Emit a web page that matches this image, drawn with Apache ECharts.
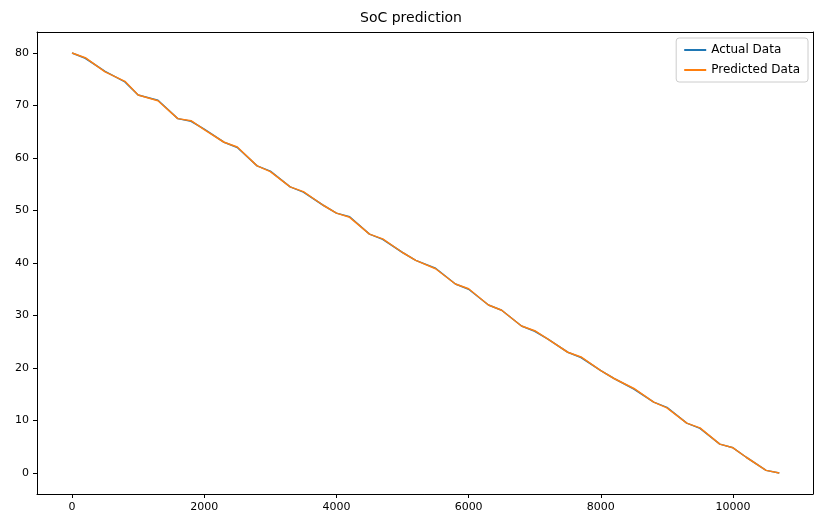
<!DOCTYPE html>
<html>
<head>
<meta charset="utf-8">
<script src="https://cdn.jsdelivr.net/npm/echarts@6/dist/echarts.min.js"></script>
<style>html,body{margin:0;padding:0;background:#fff}#chart{width:822px;height:528px}</style>
</head>
<body>
<div id="chart"></div>
<script>
var steps = [0, 200, 500, 800, 1000, 1300, 1600, 1800, 2000, 2300, 2500, 2800, 3000, 3300, 3500, 3800, 4000, 4200, 4500, 4700, 5000, 5200, 5500, 5800, 6000, 6300, 6500, 6800, 7000, 7200, 7500, 7700, 8000, 8200, 8500, 8800, 9000, 9300, 9500, 9800, 10000, 10200, 10500, 10700];
var actual = [80, 79, 76.5, 74.5, 72, 71, 67.5, 67, 65.5, 63, 62, 58.5, 57.5, 54.5, 53.5, 51, 49.5, 48.8, 45.5, 44.5, 42, 40.5, 39, 36, 35, 32, 31, 28, 27, 25.5, 23, 22, 19.5, 18, 16, 13.5, 12.5, 9.5, 8.5, 5.5, 4.8, 3, 0.5, 0];
var predicted = [80, 79.1, 76.4, 74.6, 72, 70.9, 67.5, 67.1, 65.4, 63, 62.1, 58.5, 57.4, 54.5, 53.6, 51, 49.5, 48.7, 45.5, 44.6, 42, 40.5, 38.9, 36, 35.1, 32, 31, 28, 27.1, 25.5, 23, 22.1, 19.5, 18, 16.1, 13.5, 12.4, 9.5, 8.6, 5.5, 4.8, 3, 0.5, 0];
var xTicks = [0, 2000, 4000, 6000, 8000, 10000];
var yTicks = [0, 10, 20, 30, 40, 50, 60, 70, 80];

var chart = echarts.init(document.getElementById('chart'));
function pairs(ys) { return steps.map(function (x, i) { return [x, ys[i]]; }); }
var font = { color: '#000', fontSize: 11, fontFamily: 'DejaVu Sans' };
var line = { show: true, onZero: false, lineStyle: { color: '#000' } };
var frame = { axisLine: line, axisTick: { show: false }, axisLabel: { show: false }, splitLine: { show: false } };
chart.setOption({
  animation: false,
  title: { text: 'SoC prediction', left: 'center', top: 6, textStyle: { fontSize: 14, fontWeight: 'normal', color: '#000', fontFamily: 'DejaVu Sans' } },
  legend: {
    right: 14, top: 38, orient: 'vertical', itemWidth: 22, itemHeight: 2, itemGap: 8,
    borderColor: '#ccc', borderWidth: 1, borderRadius: 3, padding: [6, 8],
    textStyle: { fontSize: 12, color: '#000', fontFamily: 'DejaVu Sans' },
    data: [{ name: 'Actual Data', icon: 'rect' }, { name: 'Predicted Data', icon: 'rect' }]
  },
  grid: { left: 37, right: 9, top: 32, bottom: 34 },
  xAxis: [
    { type: 'value', min: -530, max: 11210, axisLine: line, splitLine: { show: false },
      axisLabel: Object.assign({ customValues: xTicks, formatter: function (v) { return String(v); } }, font),
      axisTick: { show: true, length: 4, lineStyle: { color: '#000' }, customValues: xTicks } },
    Object.assign({ type: 'value', position: 'top', min: -530, max: 11210 }, frame)
  ],
  yAxis: [
    { type: 'value', min: -4, max: 84, axisLine: line, splitLine: { show: false },
      axisLabel: Object.assign({ customValues: yTicks }, font),
      axisTick: { show: true, length: 4, lineStyle: { color: '#000' }, customValues: yTicks } },
    Object.assign({ type: 'value', position: 'right', min: -4, max: 84 }, frame)
  ],
  series: [
    { name: 'Actual Data', type: 'line', data: pairs(actual), showSymbol: false, color: '#1f77b4', lineStyle: { width: 1.5 } },
    { name: 'Predicted Data', type: 'line', data: pairs(predicted), showSymbol: false, color: '#ff7f0e', lineStyle: { width: 1.5 } }
  ]
});
</script>
</body>
</html>
